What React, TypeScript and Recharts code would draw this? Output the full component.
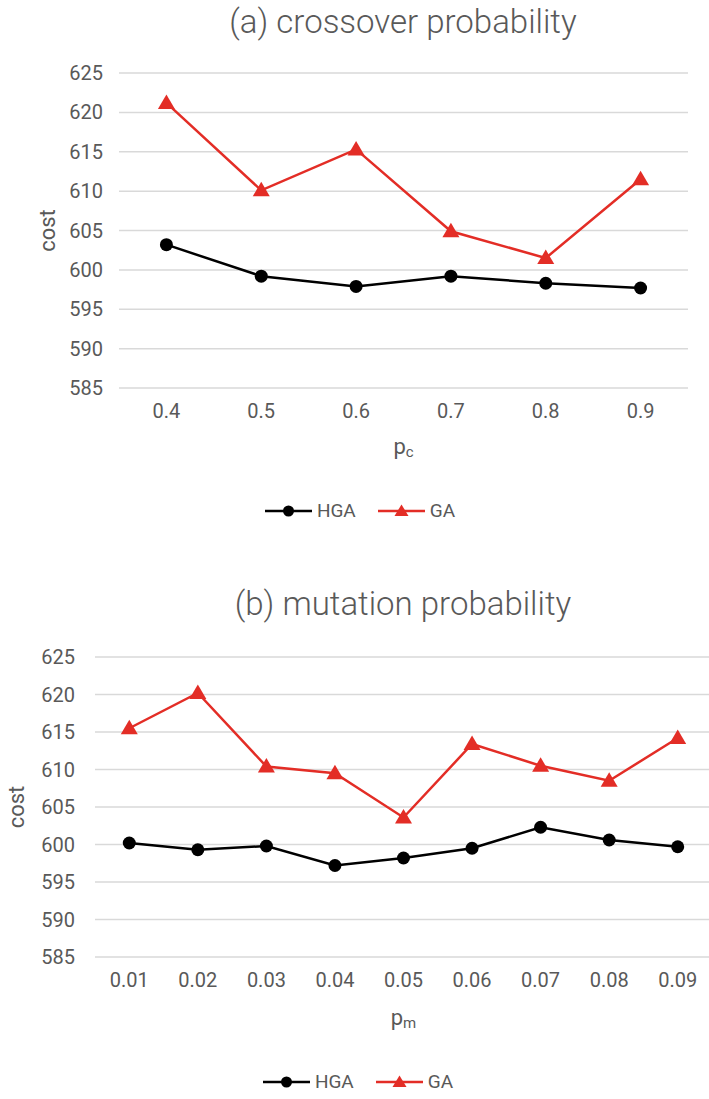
import React from 'react';
import { LineChart, Line, XAxis, YAxis, CartesianGrid, Legend, Label } from 'recharts';

const crossoverCategories = ['0.4', '0.5', '0.6', '0.7', '0.8', '0.9'];
const crossoverHGA = [603.2, 599.2, 597.9, 599.2, 598.3, 597.7];
const crossoverGA = [621.2, 610.1, 615.3, 604.9, 601.5, 611.5];

const mutationCategories = ['0.01', '0.02', '0.03', '0.04', '0.05', '0.06', '0.07', '0.08', '0.09'];
const mutationHGA = [600.2, 599.3, 599.8, 597.2, 598.2, 599.5, 602.3, 600.6, 599.7];
const mutationGA = [615.5, 620.2, 610.4, 609.5, 603.6, 613.4, 610.5, 608.5, 614.2];

const costTicks = [585, 590, 595, 600, 605, 610, 615, 620, 625];
const legendOrder = ['HGA', 'GA'];

const FONT = 'Roboto, "Noto Sans", sans-serif';
const TEXT = '#595959';
const RED = '#e32d26';

const CircleDot = (props: any) => {
  const { cx, cy, index } = props;
  if (cx == null || cy == null) return <g key={index} />;
  return <circle key={index} cx={cx} cy={cy} r={6.5} fill="#000" stroke="none" />;
};

const TriangleDot = (props: any) => {
  const { cx, cy, index } = props;
  if (cx == null || cy == null) return <g key={index} />;
  const pts = `${cx},${cy - 8.5} ${cx - 8.5},${cy + 6} ${cx + 8.5},${cy + 6}`;
  return <polygon key={index} points={pts} fill={RED} stroke="none" />;
};

const renderLegend = (props: any) => {
  const payload = [...(props.payload || [])].sort(
    (a: any, b: any) => legendOrder.indexOf(a.value) - legendOrder.indexOf(b.value)
  );
  return (
    <div style={{ display: 'flex', justifyContent: 'center', alignItems: 'center', gap: 22, fontFamily: FONT }}>
      {payload.map((p: any) => {
        const isGA = p.value === 'GA';
        return (
          <div key={p.value} style={{ display: 'flex', alignItems: 'center' }}>
            <svg width={47} height={22}>
              <line x1={0} y1={11} x2={47} y2={11} stroke={p.color} strokeWidth={2.5} />
              {isGA ? (
                <polygon points="23.5,4.5 16.5,16 30.5,16" fill={RED} />
              ) : (
                <circle cx={23.5} cy={11} r={5.5} fill="#000" />
              )}
            </svg>
            <span style={{ marginLeft: 5, fontSize: 19, color: TEXT, lineHeight: '22px' }}>{p.value}</span>
          </div>
        );
      })}
    </div>
  );
};

type PanelProps = {
  top: number;
  height: number;
  categories: string[];
  hga: number[];
  ga: number[];
  title: string;
  sub: string;
  marginTop: number;
  plotBottom: number;
  yAxisWidth: number;
  yTickMargin: number;
  marginRight: number;
  chartWidth: number;
  costX: number;
  titleCenterY: number;
  xLabelOffset: number;
  legendTop: number;
  legendWidth: number;
};

const Panel = (p: PanelProps) => {
  const data = p.categories.map((c, i) => ({ cat: c, HGA: p.hga[i], GA: p.ga[i] }));
  const xAxisHeight = 40;
  const marginBottom = p.height - p.plotBottom - xAxisHeight;
  return (
    <div style={{ position: 'absolute', left: 0, top: p.top, width: p.chartWidth, height: p.height }}>
      <div
        style={{
          position: 'absolute',
          left: 103,
          width: 600,
          top: p.titleCenterY - 20,
          height: 40,
          lineHeight: '40px',
          textAlign: 'center',
          fontFamily: FONT,
          fontWeight: 300,
          fontSize: 33,
          color: TEXT,
          whiteSpace: 'nowrap',
        }}
      >
        {p.title}
      </div>
      <LineChart
        width={p.chartWidth}
        height={p.height}
        data={data}
        margin={{ top: p.marginTop, right: p.marginRight, left: 0, bottom: marginBottom }}
      >
        <CartesianGrid vertical={false} stroke="#d9d9d9" strokeWidth={1.5} />
        <XAxis
          dataKey="cat"
          scale="band"
          tickLine={false}
          axisLine={false}
          tickSize={0}
          tickMargin={16}
          height={xAxisHeight}
          interval={0}
          tick={{ fill: TEXT, fontSize: 20, fontFamily: FONT }}
        >
          <Label
            content={(lp: any) => {
              const vb = lp.viewBox || {};
              const cx = vb.x + vb.width / 2;
              const y = vb.y + p.xLabelOffset;
              return (
                <text x={cx} y={y} textAnchor="middle" fill={TEXT} fontFamily={FONT} fontSize={22}>
                  <tspan>p</tspan>
                  <tspan fontSize={15} dy={3}>{p.sub}</tspan>
                </text>
              );
            }}
          />
        </XAxis>
        <YAxis
          domain={[585, 625]}
          ticks={costTicks}
          tickLine={false}
          axisLine={false}
          tickSize={0}
          tickMargin={p.yTickMargin}
          width={p.yAxisWidth}
          interval={0}
          tick={{ fill: TEXT, fontSize: 20, fontFamily: FONT }}
        >
          <Label
            content={(lp: any) => {
              const vb = lp.viewBox || {};
              const cy = vb.y + vb.height / 2;
              return (
                <text
                  x={p.costX}
                  y={cy}
                  textAnchor="middle"
                  dominantBaseline="central"
                  transform={`rotate(-90 ${p.costX} ${cy})`}
                  fill={TEXT}
                  fontFamily={FONT}
                  fontSize={22}
                >
                  cost
                </text>
              );
            }}
          />
        </YAxis>
        <Legend
          verticalAlign="middle"
          align="center"
          layout="horizontal"
          wrapperStyle={{ top: p.legendTop, left: 0, width: p.legendWidth }}
          content={renderLegend}
        />
        <Line
          type="linear"
          dataKey="HGA"
          name="HGA"
          stroke="#000"
          strokeWidth={2.5}
          dot={CircleDot}
          activeDot={false}
          isAnimationActive={false}
        />
        <Line
          type="linear"
          dataKey="GA"
          name="GA"
          stroke={RED}
          strokeWidth={2.5}
          dot={TriangleDot}
          activeDot={false}
          isAnimationActive={false}
        />
      </LineChart>
    </div>
  );
};

export default function App() {
  return (
    <div
      style={{
        position: 'absolute',
        left: 0,
        top: 0,
        width: 709,
        height: 1099,
        overflow: 'hidden',
        background: '#fff',
      }}
    >
      <Panel
        top={0}
        height={545}
        categories={crossoverCategories}
        hga={crossoverHGA}
        ga={crossoverGA}
        title="(a) crossover probability"
        sub="c"
        marginTop={73}
        plotBottom={388}
        yAxisWidth={119}
        yTickMargin={16}
        marginRight={21}
        chartWidth={709}
        costX={47}
        titleCenterY={22}
        xLabelOffset={66}
        legendTop={500}
        legendWidth={720}
      />
      <Panel
        top={560}
        height={539}
        categories={mutationCategories}
        hga={mutationHGA}
        ga={mutationGA}
        title="(b) mutation probability"
        sub="m"
        marginTop={97}
        plotBottom={397}
        yAxisWidth={95}
        yTickMargin={20}
        marginRight={-3}
        chartWidth={709}
        costX={16}
        titleCenterY={44}
        xLabelOffset={68}
        legendTop={511}
        legendWidth={716}
      />
    </div>
  );
}
